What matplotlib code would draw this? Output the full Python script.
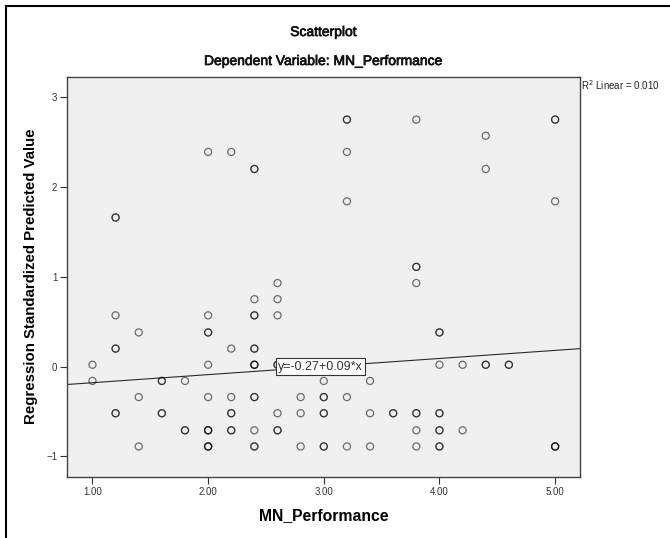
import numpy as np
import matplotlib
matplotlib.use("Agg")
import matplotlib.pyplot as plt
from matplotlib.lines import Line2D
import matplotlib.patheffects as pe

plt.rcParams['font.family'] = ['Liberation Sans', 'DejaVu Sans']

# ---- data ----
# each entry: MN_Performance value, predicted value, number of overlapping cases
perf = [1.0, 1.0,
        1.2, 1.2, 1.2, 1.2,
        1.4, 1.4, 1.4,
        1.6, 1.6,
        1.8, 1.8,
        2.0, 2.0, 2.0, 2.0, 2.0, 2.0, 2.0,
        2.2, 2.2, 2.2, 2.2, 2.2,
        2.4, 2.4, 2.4, 2.4, 2.4, 2.4, 2.4, 2.4,
        2.6, 2.6, 2.6, 2.6, 2.6, 2.6,
        2.8, 2.8, 2.8,
        3.0, 3.0, 3.0, 3.0,
        3.2, 3.2, 3.2, 3.2, 3.2,
        3.4, 3.4, 3.4,
        3.6,
        3.8, 3.8, 3.8, 3.8, 3.8, 3.8,
        4.0, 4.0, 4.0, 4.0, 4.0,
        4.2, 4.2,
        4.4, 4.4, 4.4,
        4.6,
        5.0, 5.0, 5.0]
pred = [0.02, -0.16,
        1.66, 0.57, 0.20, -0.52,
        0.38, -0.34, -0.89,
        -0.16, -0.52,
        -0.16, -0.71,
        2.39, 0.57, 0.38, 0.02, -0.34, -0.71, -0.89,
        2.39, 0.20, -0.34, -0.52, -0.71,
        2.20, 0.75, 0.57, 0.20, 0.02, -0.34, -0.71, -0.89,
        0.93, 0.75, 0.57, 0.02, -0.52, -0.71,
        -0.34, -0.52, -0.89,
        -0.16, -0.34, -0.52, -0.89,
        2.75, 2.39, 1.84, -0.34, -0.89,
        -0.16, -0.52, -0.89,
        -0.52,
        2.75, 1.11, 0.93, -0.52, -0.71, -0.89,
        0.38, 0.02, -0.52, -0.71, -0.89,
        0.02, -0.71,
        2.57, 2.20, 0.02,
        0.02,
        2.75, 1.84, -0.89]
cases = [1, 1,
         2, 1, 2, 2,
         1, 1, 1,
         2, 2,
         1, 2,
         1, 1, 2, 1, 1, 3, 3,
         1, 1, 1, 2, 2,
         2, 1, 2, 2, 3, 2, 1, 2,
         1, 1, 1, 2, 1, 2,
         1, 1, 1,
         1, 2, 2, 2,
         2, 1, 1, 1, 1,
         1, 1, 1,
         2,
         1, 2, 1, 2, 1, 1,
         2, 1, 2, 2, 2,
         1, 1,
         1, 1, 2,
         2,
         2, 1, 3]

fit_intercept = -0.27
fit_slope = 0.09
r2_linear = 0.010

x_ticks = [1.0, 2.0, 3.0, 4.0, 5.0]
x_tick_labels = ["1.00", "2.00", "3.00", "4.00", "5.00"]
y_ticks = [-1, 0, 1, 2, 3]

# ---- figure ----
W, H = 670, 538
fig = plt.figure(figsize=(W / 100, H / 100), dpi=100)
fig.patch.set_facecolor('white')

ax_l, ax_r, ax_t, ax_b = 67, 580, 76.5, 477
ax = fig.add_axes([ax_l / W, 1 - ax_b / H, (ax_r - ax_l) / W, (ax_b - ax_t) / H])
ax.set_facecolor('#f0f0f0')

# expand duplicates so that overlapping circles look darker
xs = np.repeat(perf, cases)
ys = np.repeat(pred, cases)
ax.scatter(xs, ys, s=26, facecolors='none', edgecolors=(0, 0, 0, 0.55),
           linewidths=0.9, zorder=3)

ax.set_xlim(0.78, 5.215)
ax.set_ylim(-1.23, 3.23)

# fit line
xl = np.array(ax.get_xlim())
ax.plot(xl, fit_intercept + fit_slope * xl, color='#2a2a2a', lw=0.8, zorder=2)

# equation label
ax.text(2.605, 0.0, "y=%.2f+%.2f*x" % (fit_intercept, fit_slope), fontsize=9,
        ha='left', va='center', color='#333333', zorder=5,
        bbox=dict(boxstyle='square,pad=0.2', facecolor='white',
                  edgecolor='#333333', linewidth=0.8))

ax.set_xticks(x_ticks)
ax.set_xticklabels(x_tick_labels)
ax.set_yticks(y_ticks)
ax.tick_params(axis='both', direction='out', length=5, width=0.8,
               color='#333333', labelsize=7, labelcolor='#333333', pad=2)
for sp in ax.spines.values():
    sp.set_color('#444444')
    sp.set_linewidth(1.0)

ax.set_xlabel("MN_Performance", fontsize=11.3, fontweight='bold', labelpad=8)
ax.set_ylabel("Regression Standardized Predicted Value", fontsize=10.8,
              fontweight='bold', labelpad=6)

# titles
cx = (ax_l + ax_r) / 2 / W
heavy = [pe.withStroke(linewidth=0.5, foreground='#111111')]
fig.text(cx, 1 - 32 / H, "Scatterplot", fontsize=10, ha='center', va='center',
         color='#111111', path_effects=heavy)
fig.text(cx, 1 - 61 / H, "Dependent Variable: MN_Performance", fontsize=10,
         ha='center', va='center', color='#111111', path_effects=heavy)

fig.text(ax_r / W + 0.001, 1 - 85 / H, "R$^2$ Linear = %.3f" % r2_linear,
         fontsize=7, ha='left', va='center', color='#222222')

# outer frame (left and top visible)
fig.add_artist(Line2D([6 / W, 6 / W], [0, 1 - 6 / H], color='black', lw=1.5,
                      transform=fig.transFigure))
fig.add_artist(Line2D([6 / W, 1], [1 - 6 / H, 1 - 6 / H], color='black', lw=1.5,
                      transform=fig.transFigure))

fig.savefig("out.png", dpi=100)
